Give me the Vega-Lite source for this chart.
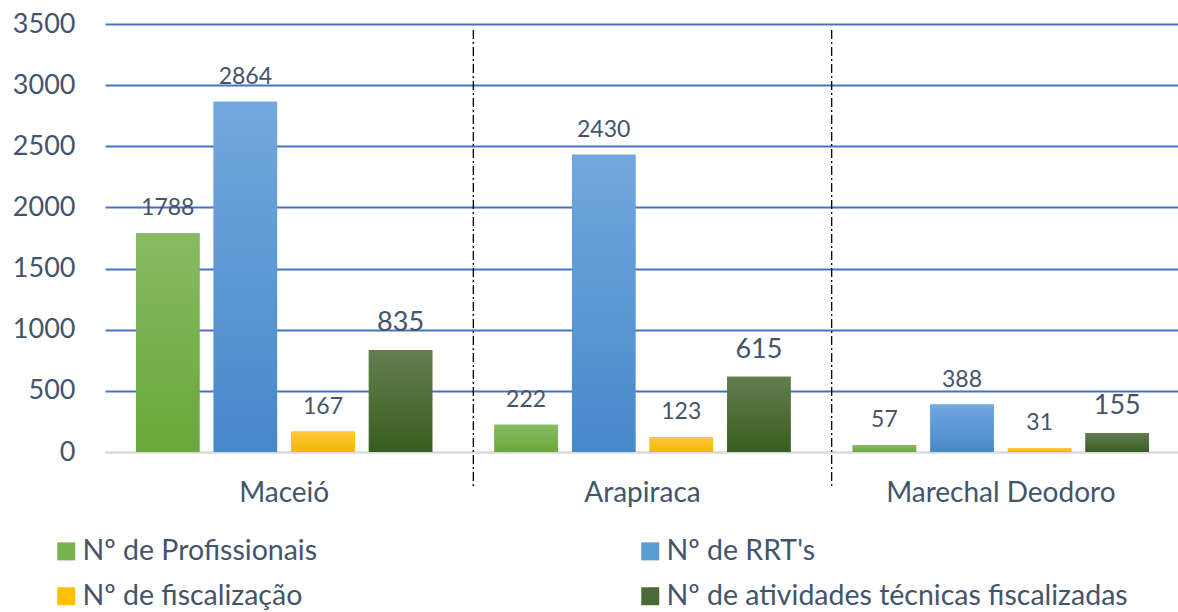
{
  "$schema": "https://vega.github.io/schema/vega-lite/v6.json",
  "width": 1075,
  "height": 428,
  "autosize": {"type": "none"},
  "padding": {"left": 105, "top": 24, "right": 0, "bottom": 160},
  "background": "white",
  "config": {"font": "Lato", "view": {"stroke": null}},
  "data": {
    "values": [
      {"city": "Maceió", "series": "Nº de Profissionais", "value": 1788},
      {"city": "Maceió", "series": "Nº de RRT's", "value": 2864},
      {"city": "Maceió", "series": "Nº de fiscalização", "value": 167},
      {"city": "Maceió", "series": "Nº de atividades técnicas fiscalizadas", "value": 835},
      {"city": "Arapiraca", "series": "Nº de Profissionais", "value": 222},
      {"city": "Arapiraca", "series": "Nº de RRT's", "value": 2430},
      {"city": "Arapiraca", "series": "Nº de fiscalização", "value": 123},
      {"city": "Arapiraca", "series": "Nº de atividades técnicas fiscalizadas", "value": 615},
      {"city": "Marechal Deodoro", "series": "Nº de Profissionais", "value": 57},
      {"city": "Marechal Deodoro", "series": "Nº de RRT's", "value": 388},
      {"city": "Marechal Deodoro", "series": "Nº de fiscalização", "value": 31},
      {"city": "Marechal Deodoro", "series": "Nº de atividades técnicas fiscalizadas", "value": 155}
    ]
  },
  "encoding": {
    "x": {
      "field": "city", "type": "nominal",
      "sort": ["Maceió", "Arapiraca", "Marechal Deodoro"],
      "scale": {"paddingInner": 0, "paddingOuter": 0},
      "axis": {
        "title": null, "ticks": false, "labelAngle": 0, "grid": false,
        "domainColor": "#D9D9D9", "domainWidth": 2, "labelLimit": 500,
        "labelFontSize": 28, "labelColor": "#44546A", "labelPadding": 27
      }
    },
    "xOffset": {
      "field": "series", "type": "nominal",
      "sort": ["Nº de Profissionais", "Nº de RRT's", "Nº de fiscalização", "Nº de atividades técnicas fiscalizadas"],
      "scale": {"paddingInner": 0.182, "paddingOuter": 0.4}
    },
    "y": {
      "field": "value", "type": "quantitative",
      "scale": {"domain": [0, 3500], "nice": false},
      "axis": {
        "title": null, "values": [0, 500, 1000, 1500, 2000, 2500, 3000, 3500], "format": "d",
        "domain": false, "ticks": false, "labelFontSize": 27, "labelColor": "#44546A",
        "labelPadding": 30,
        "gridColor": {"condition": {"test": "datum.value === 0", "value": "#D9D9D9"}, "value": "#4472C4"},
        "gridWidth": 2
      }
    }
  },
  "layer": [
    {
      "transform": [{"filter": "datum.series === 'Nº de Profissionais' && datum.city !== 'Marechal Deodoro'"}],
      "mark": {"type": "rule", "strokeDash": [9, 3, 2, 3], "color": "#000000", "strokeWidth": 1.3, "xOffset": 10},
      "encoding": {
        "x": {"field": "city", "type": "nominal", "bandPosition": 1, "sort": ["Maceió", "Arapiraca", "Marechal Deodoro"]},
        "xOffset": null,
        "y": {"datum": 3451, "type": "quantitative"},
        "y2": {"datum": -297}
      }
    },
    {
      "mark": {"type": "bar"},
      "encoding": {
        "color": {
          "field": "series", "type": "nominal",
          "scale": {
            "domain": ["Nº de Profissionais", "Nº de RRT's", "Nº de fiscalização", "Nº de atividades técnicas fiscalizadas"],
            "range": ["#77B24E", "#5B9BD5", "#FFC000", "#4A6B35"]
          },
          "legend": {
            "orient": "none", "legendX": -53, "legendY": 513, "columns": 2, "direction": "horizontal",
            "columnPadding": 318, "rowPadding": 16, "symbolType": "square",
            "symbolSize": 324, "symbolStrokeWidth": 0, "labelFontSize": 28.5,
            "labelColor": "#44546A", "title": null, "padding": 0, "labelOffset": 2,
            "labelLimit": 700
          }
        }
      }
    },
    {
      "transform": [{"filter": "datum.series === 'Nº de Profissionais'"}],
      "mark": {"type": "bar", "color": {"gradient": "linear", "x1": 0, "y1": 0, "x2": 0, "y2": 1, "stops": [{"offset": 0, "color": "#86BB62"}, {"offset": 1, "color": "#69A83A"}]}}
    },
    {
      "transform": [{"filter": "datum.series === \"Nº de RRT's\""}],
      "mark": {"type": "bar", "color": {"gradient": "linear", "x1": 0, "y1": 0, "x2": 0, "y2": 1, "stops": [{"offset": 0, "color": "#72A8DD"}, {"offset": 1, "color": "#4788CA"}]}}
    },
    {
      "transform": [{"filter": "datum.series === 'Nº de fiscalização'"}],
      "mark": {"type": "bar", "color": {"gradient": "linear", "x1": 0, "y1": 0, "x2": 0, "y2": 1, "stops": [{"offset": 0, "color": "#FFC93C"}, {"offset": 1, "color": "#F2B700"}]}}
    },
    {
      "transform": [{"filter": "datum.series === 'Nº de atividades técnicas fiscalizadas'"}],
      "mark": {"type": "bar", "color": {"gradient": "linear", "x1": 0, "y1": 0, "x2": 0, "y2": 1, "stops": [{"offset": 0, "color": "#637E50"}, {"offset": 1, "color": "#375E1E"}]}}
    },
    {
      "transform": [{"filter": "datum.series !== 'Nº de atividades técnicas fiscalizadas'"}],
      "mark": {"type": "text", "baseline": "alphabetic", "dy": -18, "color": "#44546A", "fontSize": 23},
      "encoding": {
        "text": {"field": "value", "type": "quantitative"}
      }
    },
    {
      "transform": [{"filter": "datum.series === 'Nº de atividades técnicas fiscalizadas'"}],
      "mark": {"type": "text", "baseline": "alphabetic", "dy": -19, "color": "#44546A", "fontSize": 27},
      "encoding": {
        "text": {"field": "value", "type": "quantitative"}
      }
    }
  ]
}
